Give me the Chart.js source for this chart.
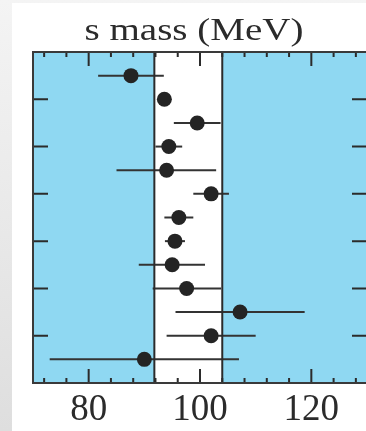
<!DOCTYPE html>
<html>
<head>
<meta charset="utf-8">
<script src="https://cdn.jsdelivr.net/npm/chart.js@4.4.1/dist/chart.umd.min.js"></script>
<style>
  html, body { margin: 0; padding: 0; overflow: hidden; width: 366px; height: 431px; }
  body { background: linear-gradient(#f4f4f4, #dedede); position: relative; }
  #sheet { position: absolute; left: 12px; top: 3px; right: 0; bottom: 0; background: #fff; }
  #wrap { position: absolute; left: 0; top: 0; width: 368px; height: 431px; }
</style>
</head>
<body>
<div id="sheet"></div>
<div id="wrap"><canvas id="c" width="368" height="431"></canvas></div>
<script>
// Strange-quark mass determinations (MeV), listed top to bottom
const rows      = [1, 2, 3, 4, 5, 6, 7, 8, 9, 10, 11, 12, 13];
const massValue = [87.6, 93.6, 99.5, 94.4, 94.0, 102.0, 96.2, 95.5, 95.0, 97.6, 107.2, 102.0, 90.0];
const errLow    = [5.9, 1.0, 4.2, 2.4, 9.0, 3.2, 2.6, 1.8, 6.0, 6.1, 11.6, 8.0, 17.0];
const errHigh   = [5.9, 1.0, 4.2, 2.4, 8.9, 3.2, 2.6, 1.8, 5.9, 6.2, 11.6, 8.0, 17.0];

// Average band and axis ticks
const bandLow  = 91.8;
const bandHigh = 104.0;
const xLabelValues = [80, 100, 120];
const xMinorTicks  = [72, 76, 84, 88, 92, 96, 104, 108, 112, 116, 124, 128];
const yTickRows    = [2, 4, 6, 8, 10, 12];

const INK = '#2b2b2b';
const FILL = '#8fd8f2';

const framePlugin = {
  id: 'frame',
  beforeDatasetsDraw(chart) {
    const { ctx, chartArea: a, scales: { x, y } } = chart;
    ctx.save();
    // excluded regions shaded, average band left white
    ctx.fillStyle = FILL;
    ctx.fillRect(a.left, a.top, a.right - a.left, a.bottom - a.top);
    const bl = x.getPixelForValue(bandLow), bh = x.getPixelForValue(bandHigh);
    ctx.fillStyle = '#ffffff';
    ctx.fillRect(bl, a.top, bh - bl, a.bottom - a.top);

    // horizontal error bars
    ctx.strokeStyle = '#333333';
    ctx.lineWidth = 2;
    rows.forEach((r, i) => {
      const py = y.getPixelForValue(r);
      ctx.beginPath();
      ctx.moveTo(x.getPixelForValue(massValue[i] - errLow[i]), py);
      ctx.lineTo(x.getPixelForValue(massValue[i] + errHigh[i]), py);
      ctx.stroke();
    });

    // band edges
    ctx.strokeStyle = INK;
    ctx.lineWidth = 2;
    [bl, bh].forEach(px => {
      ctx.beginPath();
      ctx.moveTo(px, a.top);
      ctx.lineTo(px, a.bottom);
      ctx.stroke();
    });

    // inward tick marks on all four sides
    ctx.lineWidth = 2;
    const xt = xLabelValues.map(v => [v, 14]).concat(xMinorTicks.map(v => [v, 5]));
    xt.forEach(([v, len]) => {
      const px = x.getPixelForValue(v);
      ctx.beginPath();
      ctx.moveTo(px, a.top); ctx.lineTo(px, a.top + len);
      ctx.moveTo(px, a.bottom); ctx.lineTo(px, a.bottom - len);
      ctx.stroke();
    });
    yTickRows.forEach(r => {
      const py = y.getPixelForValue(r);
      ctx.beginPath();
      ctx.moveTo(a.left, py); ctx.lineTo(a.left + 15, py);
      ctx.moveTo(a.right, py); ctx.lineTo(a.right - 15, py);
      ctx.stroke();
    });

    // frame
    ctx.strokeStyle = '#3a3a3a';
    ctx.lineWidth = 2;
    ctx.strokeRect(a.left, a.top, a.right - a.left, a.bottom - a.top);
    ctx.restore();
  },
  afterDraw(chart) {
    const { ctx, chartArea: a, scales: { x } } = chart;
    ctx.save();
    ctx.fillStyle = INK;
    // axis numbers under the frame
    ctx.font = '37px "Liberation Serif"';
    ctx.textAlign = 'center';
    ctx.textBaseline = 'alphabetic';
    xLabelValues.forEach(v => {
      ctx.fillText(String(v), x.getPixelForValue(v), 420);
    });
    // heading, set slightly wide
    ctx.font = '32px "Liberation Serif"';
    ctx.translate((a.left + a.right) / 2 - 6, 40);
    ctx.scale(1.22, 1);
    ctx.fillText('s mass (MeV)', 0, 0);
    ctx.restore();
  }
};

new Chart(document.getElementById('c'), {
  type: 'scatter',
  data: {
    datasets: [{
      data: rows.map((r, i) => ({ x: massValue[i], y: r })),
      pointRadius: 7.5,
      pointHoverRadius: 7.5,
      backgroundColor: '#242424',
      borderWidth: 0
    }]
  },
  options: {
    responsive: false,
    animation: false,
    events: [],
    layout: { autoPadding: false, padding: { left: 33, right: 1, top: 52, bottom: 48 } },
    plugins: { legend: { display: false }, title: { display: false }, tooltip: { enabled: false } },
    scales: {
      x: { type: 'linear', min: 70, max: 130, display: false },
      y: { type: 'linear', min: 0, max: 14, reverse: true, display: false }
    }
  },
  plugins: [framePlugin]
});
</script>
</body>
</html>
